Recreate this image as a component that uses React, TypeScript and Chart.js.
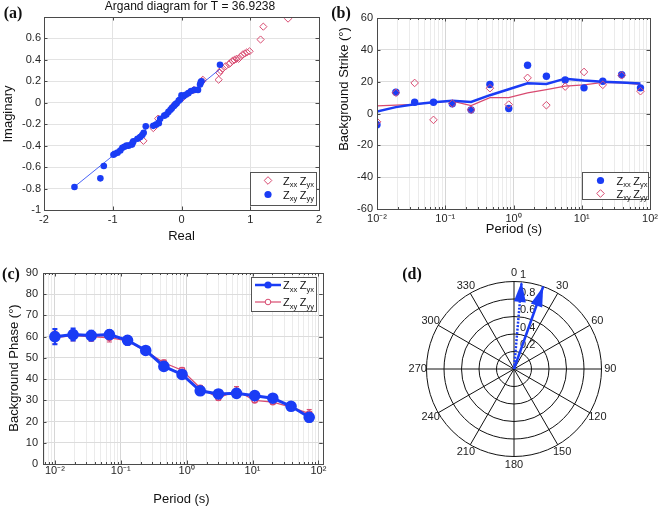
import React, { useEffect, useRef } from 'react';
import { Chart, registerables } from 'chart.js';

Chart.register(...registerables);

const FONT = "'Liberation Sans', Arial, Helvetica, sans-serif";
const SERIF = "'Liberation Serif', 'Times New Roman', Times, serif";
const BLUE = '#1a3cf5';
const PINK = '#d84a70';
const TICK = '#262626';
const FRAME = '#4a4a4a';

// ---------- (a) Argand diagram ----------
const argandTitle = 'Argand diagram for T = 36.9238';
const blueRe = [-1.557, -1.18, -1.13, -0.99, -0.97, -0.93, -0.89, -0.86, -0.83, -0.8, -0.77, -0.72, -0.71, -0.7, -0.64, -0.6, -0.57, -0.55, -0.52, -0.41, -0.37, -0.33, -0.31, -0.25, -0.22, -0.19, -0.16, -0.14, -0.11, -0.09, -0.07, -0.04, -0.02, 0.0, 0.03, 0.06, 0.1, 0.14, 0.19, 0.24, 0.27, 0.28, 0.29, 0.56];
const blueIm = [-0.785, -0.705, -0.59, -0.485, -0.475, -0.465, -0.445, -0.42, -0.41, -0.4, -0.4, -0.39, -0.37, -0.36, -0.335, -0.32, -0.3, -0.28, -0.22, -0.215, -0.205, -0.19, -0.15, -0.12, -0.11, -0.085, -0.065, -0.05, -0.03, -0.015, -0.005, 0.02, 0.03, 0.07, 0.06, 0.075, 0.09, 0.11, 0.12, 0.12, 0.17, 0.19, 0.2, 0.355];
const redRe = [1.55, 1.19, 1.15, 0.99, 0.95, 0.92, 0.89, 0.86, 0.83, 0.8, 0.77, 0.74, 0.71, 0.69, 0.64, 0.6, 0.57, 0.55, 0.54, 0.31, 0.3, 0.18, 0.1, 0.02, -0.09, -0.12, -0.34, -0.41, -0.554];
const redIm = [0.785, 0.71, 0.59, 0.48, 0.47, 0.46, 0.45, 0.43, 0.41, 0.41, 0.4, 0.39, 0.37, 0.36, 0.34, 0.32, 0.3, 0.28, 0.215, 0.215, 0.2, 0.12, 0.09, 0.05, -0.018, -0.03, -0.148, -0.236, -0.355];
const fitRe = [-1.56, 0.56];
const fitIm = [-0.785, 0.315];

// ---------- (b), (c) period axis ----------
const periods = [0.01, 0.0189, 0.0356, 0.0672, 0.1267, 0.239, 0.451, 0.851, 1.606, 3.03, 5.71, 10.78, 20.3, 38.4, 72.4];
const periodMajorTicks = [0.01, 0.1, 1, 10, 100];
const periodTickLabels = ['10⁻²', '10⁻¹', '10⁰', '10¹', '10²'];

// (b) background strike
const strikeBlueDots = [-7.1, 13.4, 7.1, 7.1, 6.1, 2.3, 18.2, 3.1, 30.3, 23.4, 21.1, 16.1, 20.3, 24.3, 16.1];
const strikeRedDiamonds = [-5.2, 13, 19.2, -4, 6.3, 2.3, 15.9, 5.6, 22.4, 5.2, 16.9, 26.1, 18, 24, 14];
const strikeBlueLine = [1.3, 4, 5.8, 7, 8, 7.2, 11.5, 15.2, 19, 18.6, 21.9, 20.8, 20, 19.4, 18.8];
const strikeRedLine = [4.8, 5.3, 5.8, 7, 7.8, 5, 10, 10, 13, 15, 17.2, 18, 19.6, 19.2, 18.3];

// (c) background phase
const phaseBlue = [60, 61, 60.5, 61, 58.3, 53.5, 46, 42.2, 34.5, 33, 33.3, 32.2, 31, 27.2, 22];
const phaseRed = [59.6, 60.5, 60, 59.5, 58, 53.2, 47.7, 44.2, 35.8, 31.2, 34.5, 30, 29.2, 26.8, 23.7];
const phaseBlueErr = [3.6, 2.8, 2.3, 2, 2, 1.2, 1.3, 1.2, 1.2, 1, 1, 1, 1, 1, 2];
const phaseRedErr = [3, 2.5, 2.2, 2, 2, 1.2, 1.3, 1.2, 1.2, 1.2, 2, 1, 1, 1, 2];

// ---------- (d) polar ----------
const arrowAngles = [5, 19.5];
const arrowMags = [1, 1];
const ringValues = [0.2, 0.4, 0.6, 0.8, 1];
const ringLabels = ['0.2', '0.4', '0.6', '0.8', '1'];
const spokeAngles = [0, 30, 60, 90, 120, 150, 180, 210, 240, 270, 300, 330];

// ---------- helpers ----------
const pts = (xs: number[], ys: number[]) => xs.map((x, i) => ({ x, y: ys[i] }));

function logTickList(min: number, max: number) {
  const out: any[] = [];
  const e0 = Math.floor(Math.log10(min));
  const e1 = Math.ceil(Math.log10(max));
  for (let e = e0; e <= e1; e++) {
    for (let k = 1; k <= 9; k++) {
      const v = Number((k * Math.pow(10, e)).toPrecision(6));
      if (v >= min * 0.9999 && v <= max * 1.0001) out.push({ value: v, major: k === 1 });
    }
  }
  return out;
}

function periodLabel(v: number) {
  for (let i = 0; i < periodMajorTicks.length; i++) {
    if (Math.abs(v - periodMajorTicks[i]) / periodMajorTicks[i] < 1e-6) return periodTickLabels[i];
  }
  return '';
}

function drawZ(ctx: CanvasRenderingContext2D, tx: number, y: number, s1: string, s2: string) {
  ctx.fillStyle = '#111';
  ctx.textAlign = 'left';
  ctx.textBaseline = 'alphabetic';
  const base = y + 4;
  let x = tx;
  ctx.font = `11px ${FONT}`;
  ctx.fillText('Z', x, base);
  x += ctx.measureText('Z').width;
  ctx.font = `7.5px ${FONT}`;
  ctx.fillText(s1, x, base + 2.5);
  x += ctx.measureText(s1).width + 2.5;
  ctx.font = `11px ${FONT}`;
  ctx.fillText('Z', x, base);
  x += ctx.measureText('Z').width;
  ctx.font = `7.5px ${FONT}`;
  ctx.fillText(s2, x, base + 2.5);
}

function drawMarker(ctx: CanvasRenderingContext2D, kind: string, x: number, y: number) {
  ctx.save();
  if (kind === 'lineDot') {
    ctx.strokeStyle = BLUE; ctx.lineWidth = 2.5;
    ctx.beginPath(); ctx.moveTo(x - 13, y); ctx.lineTo(x + 13, y); ctx.stroke();
  }
  if (kind === 'lineCircle') {
    ctx.strokeStyle = PINK; ctx.lineWidth = 1.2;
    ctx.beginPath(); ctx.moveTo(x - 13, y); ctx.lineTo(x + 13, y); ctx.stroke();
  }
  if (kind === 'dot' || kind === 'lineDot') {
    ctx.fillStyle = BLUE;
    ctx.beginPath(); ctx.arc(x, y, 3.6, 0, Math.PI * 2); ctx.fill();
  }
  if (kind === 'diamond') {
    ctx.fillStyle = '#fff'; ctx.strokeStyle = PINK; ctx.lineWidth = 1;
    ctx.beginPath(); ctx.moveTo(x, y - 3.8); ctx.lineTo(x + 3.8, y); ctx.lineTo(x, y + 3.8); ctx.lineTo(x - 3.8, y); ctx.closePath();
    ctx.fill(); ctx.stroke();
  }
  if (kind === 'lineCircle') {
    ctx.fillStyle = '#fff'; ctx.strokeStyle = PINK; ctx.lineWidth = 1;
    ctx.beginPath(); ctx.arc(x, y, 2.8, 0, Math.PI * 2); ctx.fill(); ctx.stroke();
  }
  ctx.restore();
}

function drawInwardTicks(chart: any) {
  const ctx = chart.ctx as CanvasRenderingContext2D;
  const a = chart.chartArea;
  const xs = chart.scales.x, ys = chart.scales.y;
  ctx.save();
  ctx.strokeStyle = FRAME; ctx.lineWidth = 1;
  ctx.beginPath();
  for (const t of xs.ticks) {
    const x = Math.round(xs.getPixelForValue(t.value)) + 0.5;
    const len = t.major === false ? 2 : 3.5;
    ctx.moveTo(x, a.bottom); ctx.lineTo(x, a.bottom - len);
    ctx.moveTo(x, a.top); ctx.lineTo(x, a.top + len);
  }
  for (const t of ys.ticks) {
    const y = Math.round(ys.getPixelForValue(t.value)) + 0.5;
    ctx.moveTo(a.left, y); ctx.lineTo(a.left + 3.5, y);
    ctx.moveTo(a.right, y); ctx.lineTo(a.right - 3.5, y);
  }
  ctx.stroke();
  ctx.restore();
}

function makeDecor(opts: any) {
  return {
    id: 'decor',
    beforeDatasetsDraw(chart: any) { if (opts.under) opts.under(chart); },
    afterDatasetsDraw(chart: any) { if (opts.over) opts.over(chart); },
    afterDraw(chart: any) {
      const ctx = chart.ctx as CanvasRenderingContext2D;
      const a = chart.chartArea;
      ctx.save();
      if (opts.frame) {
        drawInwardTicks(chart);
        ctx.strokeStyle = FRAME; ctx.lineWidth = 1;
        const l = Math.round(a.left) + 0.5, t = Math.round(a.top) + 0.5;
        ctx.strokeRect(l, t, Math.round(a.right) - Math.round(a.left), Math.round(a.bottom) - Math.round(a.top));
      }
      for (const it of opts.texts || []) {
        ctx.save();
        ctx.font = it.font;
        ctx.fillStyle = it.color || '#111';
        ctx.textAlign = it.align || 'center';
        ctx.textBaseline = it.baseline || 'alphabetic';
        ctx.translate(it.x, it.y);
        if (it.rot) ctx.rotate(-Math.PI / 2);
        ctx.fillText(it.t, 0, 0);
        ctx.restore();
      }
      const L = opts.legend;
      if (L) {
        ctx.fillStyle = '#fff'; ctx.fillRect(L.x, L.y, L.w, L.h);
        ctx.strokeStyle = '#555'; ctx.lineWidth = 1; ctx.strokeRect(L.x + 0.5, L.y + 0.5, L.w, L.h);
        for (const r of L.rows) {
          drawMarker(ctx, r.marker, L.mx, r.y);
          drawZ(ctx, L.tx, r.y, r.s1, r.s2);
        }
      }
      ctx.restore();
    },
  };
}

const baseOptions = (padding: any) => ({
  responsive: false,
  animation: false,
  devicePixelRatio: 1,
  events: [],
  layout: { padding },
  plugins: { legend: { display: false }, title: { display: false }, tooltip: { enabled: false } },
});

const tickFont = { family: FONT, size: 11 };

// ---------- chart configs ----------
function configA(): any {
  return {
    type: 'scatter',
    data: {
      datasets: [
        { data: pts(blueRe, blueIm), pointStyle: 'circle', pointRadius: 3.3, backgroundColor: BLUE, borderColor: BLUE, borderWidth: 0 },
        { data: pts(fitRe, fitIm), showLine: true, pointRadius: 0, borderColor: BLUE, borderWidth: 0.8 },
        { data: pts(redRe, redIm), pointStyle: 'rectRot', pointRadius: 3.6, backgroundColor: 'rgba(255,255,255,0)', borderColor: PINK, borderWidth: 1 },
      ],
    },
    options: {
      ...baseOptions({ left: 0, right: 11, top: 17, bottom: 0 }),
      scales: {
        x: {
          type: 'linear', min: -2, max: 2,
          afterFit: (s: any) => { s.height = 40; },
          ticks: { stepSize: 1, font: tickFont, color: TICK, padding: 3, maxRotation: 0, autoSkip: false },
          grid: { color: '#e3e3e3', drawTicks: false }, border: { display: false },
        },
        y: {
          type: 'linear', min: -1, max: 0.8,
          afterFit: (s: any) => { s.width = 44; },
          ticks: { stepSize: 0.2, font: tickFont, color: TICK, padding: 3, autoSkip: false,
            callback: (v: number) => (v > 0.7 ? '' : String(Number(v.toFixed(1)))) },
          grid: { color: '#e3e3e3', drawTicks: false }, border: { display: false },
        },
      },
    },
    plugins: [makeDecor({
      frame: true,
      texts: [
        { t: '(a)', x: 13, y: 14, font: `bold 16px ${SERIF}`, baseline: 'middle' },
        { t: argandTitle, x: 190, y: 9.5, font: `12px ${FONT}` },
        { t: 'Real', x: 181.5, y: 240, font: `13px ${FONT}` },
        { t: 'Imaginary', x: 11.5, y: 114, font: `13px ${FONT}`, rot: true },
      ],
      legend: {
        x: 250, y: 172, w: 66, h: 33, mx: 268, tx: 283,
        rows: [
          { marker: 'diamond', y: 180.5, s1: 'xx', s2: 'yx' },
          { marker: 'dot', y: 194.5, s1: 'xy', s2: 'yy' },
        ],
      },
    })],
  };
}

function periodAxis(min: number, max: number, height: number, pad: number) {
  return {
    type: 'logarithmic', min, max,
    afterBuildTicks: (s: any) => { s.ticks = logTickList(min, max); },
    afterFit: (s: any) => { s.height = height; },
    ticks: { font: tickFont, color: TICK, padding: pad, maxRotation: 0, autoSkip: false, callback: (v: number) => periodLabel(v) },
    grid: { color: (c: any) => (c.tick && c.tick.major ? '#d6d6d6' : '#ebebeb'), drawTicks: false },
    border: { display: false },
  };
}

function configB(): any {
  return {
    type: 'scatter',
    data: {
      datasets: [
        { data: pts(periods, strikeRedDiamonds), pointStyle: 'rectRot', pointRadius: 3.8, backgroundColor: 'rgba(255,255,255,0)', borderColor: PINK, borderWidth: 1 },
        { data: pts(periods, strikeBlueDots), pointStyle: 'circle', pointRadius: 3.7, backgroundColor: BLUE, borderColor: BLUE, borderWidth: 0 },
        { data: pts(periods, strikeBlueLine), showLine: true, pointRadius: 0, borderColor: BLUE, borderWidth: 2.5 },
        { data: pts(periods, strikeRedLine), showLine: true, pointRadius: 0, borderColor: PINK, borderWidth: 1.2 },
      ],
    },
    options: {
      ...baseOptions({ left: 0, right: 10, top: 18, bottom: 0 }),
      scales: {
        x: periodAxis(0.01, 100, 41, 3),
        y: {
          type: 'linear', min: -60, max: 60,
          afterFit: (s: any) => { s.width = 47; },
          ticks: { stepSize: 20, font: tickFont, color: TICK, padding: 4, autoSkip: false },
          grid: { color: '#dcdcdc', drawTicks: false }, border: { display: false },
        },
      },
    },
    plugins: [makeDecor({
      frame: true,
      texts: [
        { t: '(b)', x: 11, y: 14, font: `bold 16px ${SERIF}`, baseline: 'middle' },
        { t: 'Period (s)', x: 184, y: 233, font: `13px ${FONT}` },
        { t: 'Background Strike (°)', x: 18, y: 89, font: `13px ${FONT}`, rot: true },
      ],
      legend: {
        x: 252, y: 172, w: 66, h: 27, mx: 270.5, tx: 286.5,
        rows: [
          { marker: 'dot', y: 180.5, s1: 'xx', s2: 'yx' },
          { marker: 'diamond', y: 193.5, s1: 'xy', s2: 'yy' },
        ],
      },
    })],
  };
}

function drawErrorBars(chart: any) {
  const ctx = chart.ctx as CanvasRenderingContext2D;
  const xs = chart.scales.x, ys = chart.scales.y;
  const sets = [
    { vals: phaseRed, errs: phaseRedErr, color: PINK, lw: 1 },
    { vals: phaseBlue, errs: phaseBlueErr, color: BLUE, lw: 2 },
  ];
  ctx.save();
  for (const s of sets) {
    ctx.strokeStyle = s.color; ctx.lineWidth = s.lw;
    periods.forEach((p, i) => {
      const x = xs.getPixelForValue(p);
      const y1 = ys.getPixelForValue(s.vals[i] - s.errs[i]);
      const y2 = ys.getPixelForValue(s.vals[i] + s.errs[i]);
      ctx.beginPath();
      ctx.moveTo(x, y1); ctx.lineTo(x, y2);
      ctx.moveTo(x - 2.5, y1); ctx.lineTo(x + 2.5, y1);
      ctx.moveTo(x - 2.5, y2); ctx.lineTo(x + 2.5, y2);
      ctx.stroke();
    });
  }
  ctx.restore();
}

function configC(): any {
  return {
    type: 'scatter',
    data: {
      datasets: [
        { data: pts(periods, phaseBlue), showLine: true, pointStyle: 'circle', pointRadius: 4.3, backgroundColor: BLUE, borderColor: BLUE, borderWidth: 3 },
        { data: pts(periods, phaseRed), showLine: true, pointStyle: 'circle', pointRadius: 2.8, backgroundColor: 'rgba(255,255,255,0)', borderColor: PINK, borderWidth: 1.3 },
      ],
    },
    options: {
      ...baseOptions({ left: 0, right: 7, top: 23, bottom: 0 }),
      scales: {
        x: periodAxis(0.0066, 116, 42, 0),
        y: {
          type: 'linear', min: 0, max: 90,
          afterFit: (s: any) => { s.width = 43; },
          ticks: { stepSize: 10, font: tickFont, color: TICK, padding: 5, autoSkip: false },
          grid: { color: '#dcdcdc', drawTicks: false }, border: { display: false },
        },
      },
    },
    plugins: [makeDecor({
      frame: true,
      under: drawErrorBars,
      texts: [
        { t: '(c)', x: 11, y: 25, font: `bold 16px ${SERIF}`, baseline: 'middle' },
        { t: 'Period (s)', x: 181.5, y: 252.5, font: `13px ${FONT}` },
        { t: 'Background Phase (°)', x: 18, y: 118, font: `13px ${FONT}`, rot: true },
      ],
      legend: {
        x: 251, y: 27, w: 65, h: 34, mx: 268, tx: 283,
        rows: [
          { marker: 'lineDot', y: 35, s1: 'xx', s2: 'yx' },
          { marker: 'lineCircle', y: 52, s1: 'xy', s2: 'yy' },
        ],
      },
    })],
  };
}

function drawPolarGrid(chart: any) {
  const ctx = chart.ctx as CanvasRenderingContext2D;
  const xs = chart.scales.x, ys = chart.scales.y;
  const cx = xs.getPixelForValue(0), cy = ys.getPixelForValue(0);
  const R = xs.getPixelForValue(1) - cx;
  ctx.save();
  ctx.strokeStyle = '#111'; ctx.lineWidth = 1;
  for (const r of ringValues) {
    ctx.beginPath(); ctx.arc(cx, cy, r * R, 0, Math.PI * 2); ctx.stroke();
  }
  for (const a of spokeAngles) {
    const t = (a * Math.PI) / 180;
    ctx.beginPath(); ctx.moveTo(cx, cy); ctx.lineTo(cx + R * Math.sin(t), cy - R * Math.cos(t)); ctx.stroke();
  }
  ctx.fillStyle = '#222';
  ctx.font = `11px ${FONT}`;
  ctx.textAlign = 'center'; ctx.textBaseline = 'middle';
  for (const a of spokeAngles) {
    const t = (a * Math.PI) / 180;
    ctx.fillText(String(a), cx + 1.1 * R * Math.sin(t), cy - 1.1 * R * Math.cos(t));
  }
  ctx.textAlign = 'left';
  ringValues.forEach((r, i) => {
    ctx.fillText(ringLabels[i], cx + 6, cy - r * R - 6.5);
  });
  ctx.restore();
}

function drawArrowHeads(chart: any) {
  const ctx = chart.ctx as CanvasRenderingContext2D;
  const xs = chart.scales.x;
  const R = xs.getPixelForValue(1) - xs.getPixelForValue(0);
  ctx.save();
  ctx.fillStyle = BLUE;
  chart.data.datasets.forEach((_: any, i: number) => {
    const m = chart.getDatasetMeta(i);
    const p0 = m.data[0], p1 = m.data[1];
    const dx = p1.x - p0.x, dy = p1.y - p0.y;
    const len = Math.hypot(dx, dy);
    const ux = dx / len, uy = dy / len;
    const hl = 0.23 * R, hw = 6;
    const bx = p1.x - ux * hl, by = p1.y - uy * hl;
    ctx.beginPath();
    ctx.moveTo(p1.x, p1.y);
    ctx.lineTo(bx - uy * hw, by + ux * hw);
    ctx.lineTo(bx + uy * hw, by - ux * hw);
    ctx.closePath();
    ctx.fill();
  });
  ctx.restore();
}

function configD(): any {
  return {
    type: 'scatter',
    data: {
      datasets: arrowAngles.map((a, i) => ({
        data: [
          { x: 0, y: 0 },
          { x: arrowMags[i] * Math.sin((a * Math.PI) / 180), y: arrowMags[i] * Math.cos((a * Math.PI) / 180) },
        ],
        showLine: true, pointRadius: 0, borderColor: BLUE, borderWidth: 2.5,
        borderDash: i === 0 ? [2, 1.5] : [],
      })),
    },
    options: {
      ...baseOptions({ left: 79, right: 42, top: 14, bottom: 32 }),
      scales: {
        x: { type: 'linear', min: -1.2, max: 1.2, display: false },
        y: { type: 'linear', min: -1.2, max: 1.2, display: false },
      },
    },
    plugins: [makeDecor({
      under: drawPolarGrid,
      over: drawArrowHeads,
      texts: [{ t: '(d)', x: 82, y: 25, font: `bold 16px ${SERIF}`, baseline: 'middle' }],
    })],
  };
}

function ChartBox({ left, top, width, height, make }: any) {
  const ref = useRef<HTMLCanvasElement>(null);
  useEffect(() => {
    const chart = new Chart(ref.current as HTMLCanvasElement, make());
    return () => chart.destroy();
  }, []);
  return (
    <canvas ref={ref} width={width} height={height}
      style={{ position: 'absolute', left, top, width, height, display: 'block' }} />
  );
}

export default function App() {
  return (
    <div style={{ position: 'absolute', left: 0, top: 0, width: 661, height: 506, background: '#fff', overflow: 'hidden' }}>
      <ChartBox left={0} top={0} width={330} height={250} make={configA} />
      <ChartBox left={330} top={0} width={331} height={250} make={configB} />
      <ChartBox left={0} top={250} width={330} height={256} make={configC} />
      <ChartBox left={330} top={250} width={331} height={256} make={configD} />
    </div>
  );
}
